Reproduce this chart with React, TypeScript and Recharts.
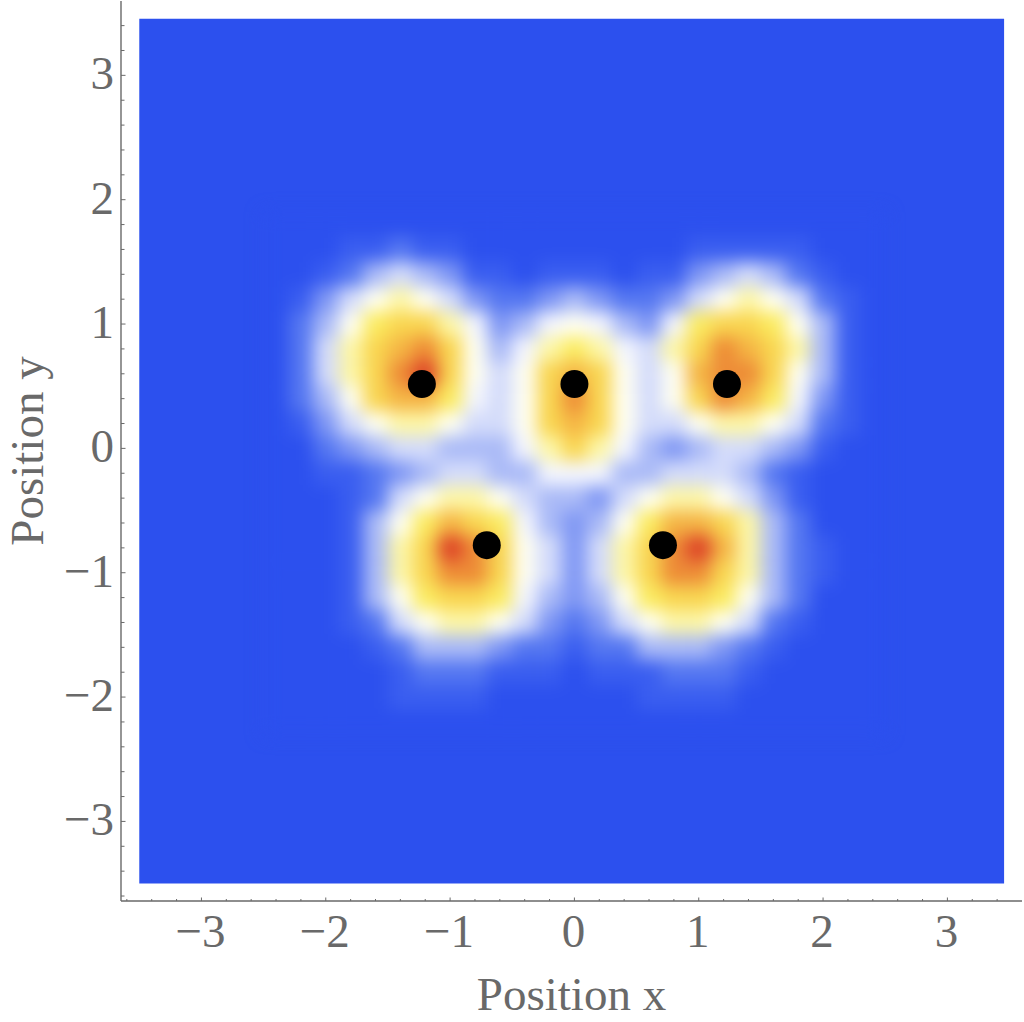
import React from 'react';
import { ScatterChart, Scatter, XAxis, YAxis, ReferenceArea } from 'recharts';

// density levels, top row first (0 = plain blue, d = red)
const cellX = [-2.4, -2.2, -2, -1.8, -1.6, -1.4, -1.2, -1, -0.8, -0.6, -0.4, -0.2, 0, 0.2, 0.4, 0.6, 0.8, 1, 1.2, 1.4, 1.6, 1.8, 2, 2.2, 2.4];
const cellY = [1.8, 1.6, 1.4, 1.2, 1, 0.8, 0.6, 0.4, 0.2, 0, -0.2, -0.4, -0.6, -0.8, -1, -1.2, -1.4, -1.6, -1.8, -2, -2.2];
const densityRows = [
  '0000000000000000000000000',
  '0001121100000000011111000',
  '0012454311011101134542100',
  '0135787532234322357875210',
  '02479aa86346764369aa97410',
  '0258abca746898658acba8410',
  '0258acda757aba757bcca7410',
  '0247abb9657aca757acb96310',
  '01357887557aba75578875210',
  '002345544468a864345543100',
  '0011234554466644555421000',
  '0001257887544357887531000',
  '0001479ba9643479bba842000',
  '000148adca75358acdb842100',
  '000148acca75358acca842100',
  '0001479aa9643479aa9742000',
  '0001257887532357887521000',
  '0000124443221224443210000',
  '0000012221110111222100000',
  '0000011110000001111000000',
  '0000000000000000000000000',
];

const sitesX = [-1.227, 0, 1.227, -0.705, 0.712];
const sitesY = [0.517, 0.517, 0.517, -0.778, -0.778];

const tickValues = [-3.6, -3.4, -3.2, -3, -2.8, -2.6, -2.4, -2.2, -2, -1.8, -1.6, -1.4, -1.2, -1, -0.8, -0.6, -0.4, -0.2, 0, 0.2, 0.4, 0.6, 0.8, 1, 1.2, 1.4, 1.6, 1.8, 2, 2.2, 2.4, 2.6, 2.8, 3, 3.2, 3.4];

const levelColors = ['#2c50ee', '#3a5ef0', '#5577f1', '#7f97f4', '#aabaf7', '#d4dcfb', '#f4f6fe', '#fffff2', '#fdf7a8', '#fbec60', '#f9d650', '#f5b544', '#ee8c36', '#dd4026'];

const densityData = densityRows.flatMap((row, j) =>
  row.split('').map((ch, i) => ({ x: cellX[i], y: cellY[j], level: parseInt(ch, 36) }))
);
const siteData = sitesX.map((x, i) => ({ x, y: sitesY[i] }));

const W = 1024;
const H = 1022;
const xDomain = [-3.647, 3.6];
const yDomain = [-3.64, 3.598];
const cellPx = (0.2 * 901) / (xDomain[1] - xDomain[0]);
const INK = '#696969';
const SERIF = '"Liberation Serif", "Times New Roman", serif';

const fmt = (v: number) => (v < 0 ? '\u2212' + Math.abs(v) : String(v));

const BottomTick = ({ x, y, payload }: any) => {
  const major = Number.isInteger(payload.value);
  return (
    <g>
      <line x1={x} x2={x} y1={y} y2={y - (major ? 3.5 : 2)} stroke={INK} strokeWidth={1} />
      {major && (
        <text x={x - 1} y={947} textAnchor="middle" fontFamily={SERIF} fontSize={47} fill={INK}>
          {fmt(payload.value)}
        </text>
      )}
    </g>
  );
};

const TopTick = ({ x, y, payload }: any) => (
  <line x1={x} x2={x} y1={y} y2={y + (Number.isInteger(payload.value) ? 3.5 : 2)} stroke={INK} strokeWidth={1} />
);

const LeftTick = ({ x, y, payload }: any) => {
  const major = Number.isInteger(payload.value);
  return (
    <g>
      <line x1={x} x2={x + (major ? 4.5 : 3.5)} y1={y} y2={y} stroke={INK} strokeWidth={1} />
      {major && (
        <text x={114} y={y + 14} textAnchor="end" fontFamily={SERIF} fontSize={47} fill={INK}>
          {fmt(payload.value)}
        </text>
      )}
    </g>
  );
};

const RightTick = ({ x, y, payload }: any) => (
  <line x1={x} x2={x - (Number.isInteger(payload.value) ? 4.5 : 3.5)} y1={y} y2={y} stroke={INK} strokeWidth={1} />
);

const DensityCell = ({ cx, cy, payload }: any) => (
  <rect x={cx - cellPx / 2} y={cy - cellPx / 2} width={cellPx + 0.5} height={cellPx + 0.5} fill={levelColors[payload.level]} />
);

const SiteDot = ({ cx, cy }: any) => <circle cx={cx} cy={cy} r={14} fill="#000000" />;

export default function App() {
  const axisLine = { stroke: INK, strokeWidth: 1.4 };
  return (
    <div style={{ position: 'absolute', left: 0, top: 0, width: W, height: H }}>
      <style>{'.density-map { filter: blur(8.5px); }'}</style>
      <ScatterChart width={W} height={H} margin={{ top: 1, right: 2, bottom: 0, left: 0 }}>
        <XAxis
          xAxisId="b"
          type="number"
          dataKey="x"
          orientation="bottom"
          domain={xDomain}
          ticks={tickValues}
          interval={0}
          height={121}
          tickSize={0}
          tickMargin={0}
          tickLine={false}
          axisLine={axisLine}
          tick={BottomTick}
          label={{ value: 'Position x', position: 'insideBottom', offset: 12, fontFamily: SERIF, fontSize: 47, fill: INK }}
        />
        <XAxis
          xAxisId="t"
          type="number"
          dataKey="x"
          orientation="top"
          domain={xDomain}
          ticks={tickValues}
          interval={0}
          height={0}
          tickSize={0}
          tickMargin={0}
          tickLine={false}
          axisLine={axisLine}
          tick={TopTick}
        />
        <YAxis
          yAxisId="l"
          type="number"
          dataKey="y"
          orientation="left"
          domain={yDomain}
          ticks={tickValues}
          interval={0}
          width={121}
          tickSize={0}
          tickMargin={0}
          tickLine={false}
          axisLine={axisLine}
          tick={LeftTick}
          label={{ value: 'Position y', angle: -90, position: 'insideLeft', offset: 26, textAnchor: 'middle', fontFamily: SERIF, fontSize: 47, fill: INK }}
        />
        <YAxis
          yAxisId="r"
          type="number"
          dataKey="y"
          orientation="right"
          domain={yDomain}
          ticks={tickValues}
          interval={0}
          width={0}
          tickSize={0}
          tickMargin={0}
          tickLine={false}
          axisLine={axisLine}
          tick={RightTick}
        />
        <ReferenceArea xAxisId="b" yAxisId="l" x1={-3.5} x2={3.456} y1={-3.5} y2={3.456} fill={levelColors[0]} fillOpacity={1} stroke="none" />
        <Scatter className="density-map" xAxisId="b" yAxisId="l" data={densityData} shape={DensityCell} isAnimationActive={false} />
        <Scatter xAxisId="b" yAxisId="l" data={siteData} shape={SiteDot} isAnimationActive={false} />
      </ScatterChart>
    </div>
  );
}
